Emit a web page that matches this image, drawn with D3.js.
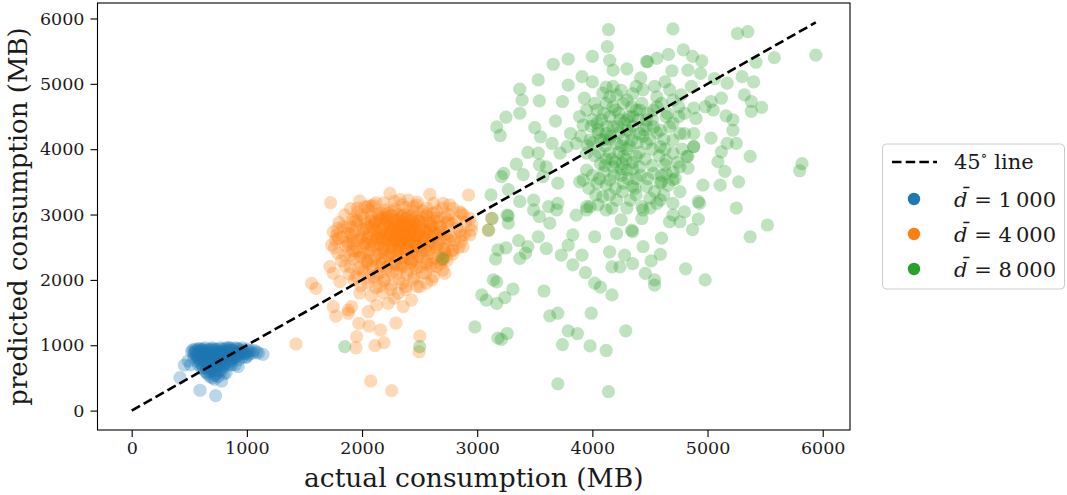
<!DOCTYPE html>
<html>
<head>
<meta charset="utf-8">
<script src="https://cdn.jsdelivr.net/npm/d3@7"></script>
<style>
  body { margin: 0; background: #ffffff; }
  text { font-family: "DejaVu Serif", serif; }
</style>
</head>
<body>
<svg id="chart" width="1067" height="495"></svg>
<script>
// tick values and 45 degree reference line
const xTicks = [0, 1000, 2000, 3000, 4000, 5000, 6000];
const yTicks = [0, 1000, 2000, 3000, 4000, 5000, 6000];
const lineEnds = [0, 5940];

const groupLabels = ["1\u2009000", "4\u2009000", "8\u2009000"];
const groupColors = ["#1f77b4", "#ff7f0e", "#2ca02c"];

// [actual, predicted] in MB
const d1000 = [
  [520,900],[540,820],[550,940],[560,760],[570,880],[580,700],[590,950],[600,820],[610,640],[620,900],
  [630,740],[640,960],[650,580],[650,860],[660,680],[670,930],[680,520],[680,780],[690,880],[700,620],
  [700,960],[710,720],[720,840],[730,560],[730,930],[740,680],[750,800],[760,900],[770,620],[770,960],
  [780,740],[790,860],[800,680],[810,940],[820,580],[820,800],[830,900],[840,720],[850,960],[860,840],
  [870,760],[880,920],[890,820],[900,700],[910,880],[920,950],[930,780],[940,860],[950,920],[960,820],
  [980,880],[1000,940],[1020,860],[1050,880],[1085,900],[1140,860],
  [540,880],[560,920],[580,800],[600,900],[620,780],[640,700],[660,820],[680,940],[700,860],[720,760],
  [740,900],[760,700],[780,940],[800,820],[820,900],[840,960],[860,920],[880,860],[600,720],[620,660],
  [640,600],[660,560],[700,500],[720,480],[750,520],[780,600],[800,560],[700,760],[740,820],[660,900],
  [580,940],[620,940],[760,840],[900,960],[960,960],[990,810],[1030,920],
  [530,930],[560,860],[590,780],[600,930],[620,850],[640,780],[650,920],[670,740],[680,860],[700,920],
  [710,660],[720,880],[730,790],[740,940],[750,720],[760,860],[770,780],[790,910],[800,760],[810,860],
  [830,820],[840,920],[850,760],[860,880],[870,950],[880,800],[900,900],[910,830],[930,940],[950,880],
  [570,820],[590,880],[610,920],[630,860],[650,800],[660,740],[670,640],[690,700],[700,820],[710,940],
  [720,600],[730,700],[750,880],[760,760],[780,840],[790,680],[800,900],[820,740],[840,860],[860,800],
  [880,900],[900,820],[920,880],[940,900],[970,900],[1010,900],[1060,920],[1100,880],[680,600],[720,540],
  [650,650],[760,620],[610,700],[580,840],[550,900],[870,700],[990,870],[640,880],[700,700],[820,960],
  [419,503],[457,698],[593,311],[729,228],[781,453],[998,826],[925,672],[853,698],[490,760],[510,700]
];

const d4000 = [
  [2010,2780],[2050,2650],[2080,2900],[2100,2520],[2120,2760],[2140,3010],[2150,2400],[2170,2620],[2190,2850],[2200,2300],
  [2210,2980],[2230,2700],[2240,2510],[2250,2880],[2260,2350],[2270,3050],[2290,2600],[2300,2780],[2310,2450],[2320,2920],
  [2330,2680],[2340,2250],[2350,2550],[2360,2830],[2370,3000],[2380,2400],[2390,2700],[2400,2620],[2410,2900],[2420,2480],
  [2430,2760],[2440,2300],[2450,2850],[2460,2580],[2470,2960],[2480,2680],[2490,2400],[2500,2780],[2510,2520],[2520,2880],
  [2530,2640],[2550,2450],[2560,2740],[2580,2560],[2600,2820],[2620,2660],[2640,2500],[2660,2900],[2680,2720],
  [2060,2420],[2090,2180],[2110,2860],[2130,2620],[2160,2200],[2180,2480],[2200,2680],[2220,2900],[2240,2150],[2260,2580],
  [2280,2820],[2300,2380],[2320,2650],[2340,2980],[2360,2480],[2380,2820],[2400,2330],[2420,2700],[2440,2560],[2460,2780],
  [2480,2500],[2500,2900],[2520,2350],[2540,2620],[2560,2980],[2580,2780],[2600,2400],[2620,2950],[2640,2700],[2660,2580],
  [2680,2820],[2700,2480],[2720,2700],[2740,2880],[2760,2600],
  [1900,2700],[1920,2450],[1940,2900],[1960,2600],[1980,2350],[2000,3000],[2020,2550],[2040,2800],[1880,2550],[1860,2800],
  [1850,2380],[1830,2650],[1960,3100],[2080,3130],[2190,3180],[2280,3200],[2350,3150],[2450,3120],[2560,3100],[2650,3050],
  [2750,3000],[2820,2900],[2850,2750],[2800,2600],[2780,2450],[2740,2300],[2680,2250],
  [1900,2200],[1950,2050],[2000,2150],[2050,1950],[2100,2050],[2150,1900],[2200,2000],[2250,1850],[2300,2100],[2350,1950],
  [2400,2150],[2450,2000],[2500,2200],[2550,2100],[2600,2250],[2050,2300],[2150,2100],[2250,2250],[2350,2200],[2450,2230],
  [1980,1800],[2080,1760],[2180,1800],[2280,1720],[2380,1850],[2480,1900],[2560,1950],[2620,2050],[2700,2150],
  [2250,2750],[2280,2680],[2330,2760],[2360,2700],[2390,2800],[2420,2850],[2300,2850],[2350,2900],[2270,2920],[2200,2800],
  [2150,2700],[2400,2550],[2450,2680],[2330,2600],[2230,2600],[2180,2950],[2310,3000],[2430,2980],[2380,2620],[2260,2480],
  [1980,3210],[2120,3180],[2330,3230],[2480,3190],[2620,3170],[2760,3150],
  [1900,3090],[2050,3120],[2200,3070],[2380,3110],[2530,3060],[2700,3100],[2850,3040],
  [1850,2990],[1960,3030],[2080,2970],[2230,3020],[2400,2980],[2560,3010],[2720,2960],[2880,2990],
  [1800,2880],[1920,2930],[2030,2870],[2160,2920],[2290,2890],[2440,2930],[2590,2870],[2750,2910],[2900,2880],
  [1790,2790],[1900,2820],[2010,2760],[2140,2810],[2260,2780],[2400,2830],[2540,2770],[2680,2810],[2820,2790],[2950,2760],
  [1780,2690],[1880,2720],[2000,2670],[2110,2710],[2230,2660],[2360,2720],[2490,2680],[2630,2700],[2770,2660],[2890,2690],
  [1770,2610],[1870,2580],[1980,2630],[2090,2590],[2210,2620],[2340,2570],[2470,2610],[2600,2580],[2740,2630],[2860,2590],
  [1760,2490],[1860,2520],[1960,2480],[2070,2530],[2190,2470],[2320,2510],[2450,2490],[2590,2520],[2720,2470],[2840,2500],
  [1790,2410],[1900,2380],[2010,2420],[2120,2370],[2250,2410],[2380,2390],[2520,2420],[2660,2380],[2790,2400],
  [1820,2290],[1930,2320],[2040,2280],[2160,2310],[2290,2290],[2420,2320],[2560,2280],[2690,2300],
  [1850,2210],[1970,2180],[2090,2220],[2210,2190],[2340,2210],[2470,2180],[2600,2200],
  [1890,2090],[2010,2120],[2130,2080],[2260,2110],[2390,2090],[2520,2110],
  [1930,2000],[2060,2030],[2190,1990],[2320,2010],[2450,2040],
  [1990,1910],[2120,1880],[2250,1920],[2380,1900],
  [2060,3060],[2170,3020],[2280,3080],[2450,3050],[2620,3020],
  [2020,2940],[2110,2880],[2210,2950],[2350,2960],[2490,2900],[2650,2950],
  [1960,2840],[2080,2820],[2200,2860],[2330,2820],[2470,2850],[2610,2830],[2780,2860],
  [1940,2740],[2060,2700],[2170,2760],[2300,2730],[2430,2770],[2560,2720],[2700,2750],
  [1920,2650],[2040,2610],[2160,2660],[2280,2620],[2410,2650],[2540,2650],[2680,2620],
  [1920,2550],[2030,2560],[2140,2530],[2270,2550],[2390,2530],[2520,2560],[2660,2540],
  [1950,2440],[2070,2460],[2190,2420],[2310,2450],[2440,2430],[2580,2460],[2720,2420],
  [2000,2350],[2110,2330],[2230,2360],[2360,2340],[2490,2360],[2630,2330],
  [2050,2250],[2170,2240],[2300,2230],[2430,2260],[2560,2240],
  [2150,2980],[2260,2990],[2380,2940],[2520,2960],
  [2120,2900],[2240,2820],[2360,2870],[2500,2820],[2580,2900],
  [2100,2780],[2220,2720],[2330,2800],[2460,2740],[2590,2760],
  [2130,2650],[2250,2700],[2370,2660],[2500,2700],[2610,2680],
  [2150,2560],[2280,2600],[2390,2600],[2520,2620],
  [2200,2500],[2330,2480],[2460,2540],
  [1727,3181],[2242,3325],[2589,3309],[2925,3299],[1426,1019],[1562,1947],[1600,1871],[2075,453],[2257,305],[2502,1141],
  [2496,901],[2294,1340],[2190,1039],[2112,993],[1953,1131],[1947,962],[2062,1294],[2161,1233],[1973,1336],[1750,1590],
  [1773,1447],[1880,1489],[1910,1590],[2054,1513],[2127,1616],[2227,1642],[2357,1590],[2430,1692],[2314,1795],[2502,1896],
  [2604,1998],[2719,2101],[2647,2202],[1750,2101],[1808,1972],[1721,2202],[1736,2534],[1793,2636],[1750,2737],[1837,2814],
  [1953,2916],[2097,3146],[2025,3120],[2401,3222],[2473,3146],[2705,3172],[2791,3095],[2864,3019],[2936,2942],[2951,2840],
  [2864,2687],[2936,2687],[2878,2508],[2791,2457],[3095,2763],[3125,2942],[2728,2355],[2705,2304],[1880,1539]
];

const d8000 = [
  [4140,5830],[4130,5570],[4150,5360],[4000,5420],[3790,5380],[3660,5300],[4180,5210],[4300,5230],[4420,5090],[4470,5340],
  [3530,5060],[3910,5110],[4000,5030],[3790,4980],[3370,4920],[4120,4950],[3390,4750],[3540,4740],[3740,4730],[3930,4780],
  [3370,4550],[3250,4490],[3680,4430],[3170,4340],[3200,4210],[3500,4330],[3550,4190],[3440,3950],[3650,4090],[3720,3940],
  [3530,3940],[3340,3770],[3400,3610],[3230,3630],[3210,3580],[3540,3760],[3600,3730],[3570,3580],[3700,3480],[3120,3300],
  [3270,3380],[3370,3200],[3490,3220],[3620,3120],[3700,3170],[3890,3500],[3950,3120],[3260,2990],
  [4700,5840],[5260,5770],[5350,5800],[5940,5440],[5580,5400],[5420,5330],[4790,5520],[4870,5420],[4950,5350],[4660,5450],
  [4560,5390],[4480,5340],[4690,5200],[4830,5210],[4940,5160],[5060,5080],[5170,5010],[5300,5110],[5400,5030],[5320,4830],
  [5380,4730],[5470,4640],[5380,4580],[5220,4450],[5160,4510],[5120,4780],[5030,4730],[4980,4650],[5050,4600],[4860,4960],
  [4770,4830],[4670,4910],[4630,5030],[4540,4960],[4880,4630],[4900,4470],[4750,4500],[5220,4290],[5250,4090],[5170,4090],
  [5030,4170],[5120,3960],[5370,3890],[5090,3810],[5150,3660],[5110,3450],[5270,3500],[4960,3450],[4830,3710],[4880,4040],
  [4800,4240],[5820,3780],[5800,3670],[5250,3100],[4920,3200],[4760,3350],[4700,3170],[4590,3220],[4800,3040],[4720,3550],
  [4630,3760],[4830,3890],
  [2980,1280],[3210,1090],[3260,1180],[3700,410],[4140,290],[3740,1010],[3790,1220],[3870,1180],[3980,990],[4120,920],
  [3990,1490],[4290,1220],[3630,1450],[3700,1490],[3580,1830],[3040,1770],[3080,1690],[3170,1640],[3240,1730],[3310,1860],
  [3140,2000],[3170,1970],[4020,1950],[4070,1890],[4170,1770],[3940,2110],[3830,2230],[3370,2330],[3420,2410],[3160,2320],
  [3180,2460],[3250,2490],[3360,2600],[3270,2870],[3270,2980],[3100,2760],[3130,2940],[3440,2510],[3600,2480],[3530,2660],
  [3730,2380],[3910,2380],[4020,2660],[4150,2430],[4170,2200],[4240,2200],[4350,2250],[4440,2510],[4460,2100],[4280,2380],
  [3830,2690],[3860,2990],[3950,3070],[4120,3070],[4210,2710],[4250,2920],[4340,2760],[4430,2940],[3540,2970],[3630,2870],
  [3690,3070],[3490,3070],[3790,2530],
  [5370,2660],[5520,2840],[4810,2170],[4980,2000],[4540,1920],[4540,2000],[4590,2390],[4600,2640],[4510,2290],[4670,2890],
  [4760,2890],[4870,2770],[4920,2930],[4930,3170],[4700,2990],[4430,3120],[4350,2740],
  [1850,980],[2500,980],[2700,2330],[3180,1110],
  [3920,4370],[3990,4350],[3890,4500],[4040,4600],[4120,4700],[4210,4830],[4300,4750],[4250,4900],[4410,4600],[4350,4500],
  [4470,4450],[4530,4340],[4590,4290],[4240,4450],[4180,4340],[4300,4290],[4410,4240],[4120,4240],[4070,4140],[4210,4090],
  [4340,4140],[4470,4090],[4590,4040],[4150,3940],[4270,3890],[4380,3890],[4070,3780],[4180,3730],[4300,3680],[4410,3730],
  [4530,3630],[3950,3680],[3920,3530],[4040,3480],[4150,3530],[4270,3480],[4350,3430],[4470,3430],[4590,3480],[4700,3530],
  [4760,3730],[4820,3890],[4700,4140],[4640,4500],[4700,4750],[4560,4800],[4440,4910],[4090,3270],[4210,3220],[4330,3220],
  [3980,3120],[4440,3070],[4560,3170],[3950,3940],[3860,4090],[3810,4240],[3780,4040],[3980,4140],[4150,4500],[4040,4400],
  [4090,4860],[4340,4650],[4530,4600],[4380,4960],[4180,4960],[4670,4340],[4700,3940],[4880,4240],[4880,4040],[4760,4240],
  [4640,3830],[4640,3630],
  [4200,4600],[4280,4400],[4350,4350],[4100,4550],[4230,4250],[4150,4150],[4320,4050],[4250,3600],[4100,3650],[4200,3400],
  [4380,3550],[4300,4000],[4450,4300],[4400,4450],[4050,4250],[4020,3900],[4120,3850],[4260,3780],
  [3950,4600],[4020,4700],[4080,4450],[4130,4350],[4180,4650],[4230,4550],[4270,4700],[4320,4500],[4380,4600],[4430,4700],
  [4480,4550],[4520,4450],[4560,4650],[4050,4300],[4110,4050],[4160,4200],[4220,4350],[4270,4150],[4330,4250],[4390,4100],
  [4440,4200],[4500,4150],[4560,4250],[4620,4150],[3900,4200],[3960,4050],[4000,4450],[4060,3950],[4110,3750],[4170,3850],
  [4230,3950],[4290,3850],[4350,3800],[4410,3950],[4460,3850],[4520,3750],[4580,3900],[4630,4000],[4000,3600],[4060,3550],
  [4120,3450],[4190,3600],[4250,3700],[4310,3550],[4370,3400],[4420,3600],[4480,3550],[4540,3350],[4600,3600],[4660,3450],
  [3970,3400],[4030,3300],[4150,3300],[4260,3350],[4380,3300],[4500,3250],[4620,3300],[4050,3150],[4170,3100],[4300,3100],
  [4520,4000],[4470,4350],[4250,4050],[4350,3700],[4200,3800],[4100,4150],[4000,4100],[4300,4450],[4150,4800],[4350,4850],
  [4600,4700],[4650,4550],[4700,4400],[4750,4650],[4800,4550],[4780,4000],[4740,3800],[4700,3650],[4600,3500],[4500,3100]
];

const groups = [d1000, d4000, d8000];

const svg = d3.select("#chart");
const plot = { left: 97.5, right: 850, top: 3, bottom: 430 };

const x = d3.scaleLinear().domain([-297, 6237]).range([plot.left, plot.right]);
const y = d3.scaleLinear().domain([-297, 6237]).range([plot.bottom, plot.top]);

// scatter points, one layer per group
groups.forEach((data, i) => {
  svg.append("g")
    .selectAll("circle")
    .data(data)
    .enter()
    .append("circle")
    .attr("cx", d => x(d[0]))
    .attr("cy", d => y(d[1]))
    .attr("r", 6.6)
    .attr("fill", groupColors[i])
    .attr("fill-opacity", 0.3);
});

// 45 degree line
svg.append("line")
  .attr("x1", x(lineEnds[0])).attr("y1", y(lineEnds[0]))
  .attr("x2", x(lineEnds[1])).attr("y2", y(lineEnds[1]))
  .attr("stroke", "#000")
  .attr("stroke-width", 2.6)
  .attr("stroke-dasharray", "9.5,4.2");

// axes
const xAxis = svg.append("g")
  .attr("transform", `translate(0,${plot.bottom})`)
  .call(d3.axisBottom(x).tickValues(xTicks).tickSize(7).tickPadding(5).tickFormat(d3.format("d")));
const yAxis = svg.append("g")
  .attr("transform", `translate(${plot.left},0)`)
  .call(d3.axisLeft(y).tickValues(yTicks).tickSize(7).tickPadding(6).tickFormat(d3.format("d")));

[xAxis, yAxis].forEach(g => {
  g.select(".domain").remove();
  g.selectAll("line").attr("stroke", "#000").attr("stroke-width", 1.1);
  g.selectAll("text")
    .style("font-family", "DejaVu Serif")
    .style("font-size", "17.5px")
    .attr("fill", "#1a1a1a");
});

svg.append("rect")
  .attr("x", plot.left).attr("y", plot.top)
  .attr("width", plot.right - plot.left).attr("height", plot.bottom - plot.top)
  .attr("fill", "none")
  .attr("stroke", "#000")
  .attr("stroke-width", 1.1);

// axis titles
svg.append("text")
  .attr("x", (plot.left + plot.right) / 2)
  .attr("y", 487)
  .attr("text-anchor", "middle")
  .style("font-size", "26.5px")
  .attr("fill", "#1a1a1a")
  .text("actual consumption (MB)");

svg.append("text")
  .attr("transform", `translate(27,${(plot.top + plot.bottom) / 2}) rotate(-90)`)
  .attr("text-anchor", "middle")
  .style("font-size", "26px")
  .attr("fill", "#1a1a1a")
  .text("predicted consumption (MB)");

// legend
const legend = svg.append("g");
legend.append("rect")
  .attr("x", 882.5).attr("y", 144)
  .attr("width", 182).attr("height", 145)
  .attr("rx", 4)
  .attr("fill", "#fff")
  .attr("fill-opacity", 0.8)
  .attr("stroke", "#cccccc")
  .attr("stroke-width", 1);

const rowY = [162, 199, 234, 269];
legend.append("line")
  .attr("x1", 892).attr("x2", 937)
  .attr("y1", rowY[0]).attr("y2", rowY[0])
  .attr("stroke", "#000")
  .attr("stroke-width", 2.6)
  .attr("stroke-dasharray", "9.5,4.2");

const lineLabel = legend.append("text")
  .attr("x", 954).attr("y", rowY[0] + 7)
  .style("font-size", "21px")
  .attr("fill", "#1a1a1a");
lineLabel.append("tspan").text("45");
lineLabel.append("tspan").attr("dy", -9).style("font-size", "14px").text("\u2218");
lineLabel.append("tspan").attr("dy", 9).text(" line");

groupLabels.forEach((lab, i) => {
  const cy = rowY[i + 1];
  legend.append("circle")
    .attr("cx", 914).attr("cy", cy)
    .attr("r", 6.2)
    .attr("fill", groupColors[i]);
  const t = legend.append("text")
    .attr("x", 954).attr("y", cy + 7.5)
    .style("font-size", "21px")
    .attr("fill", "#1a1a1a");
  t.append("tspan").style("font-style", "italic").text("d\u0304");
  t.append("tspan").text(" = " + lab);
});
</script>
</body>
</html>
